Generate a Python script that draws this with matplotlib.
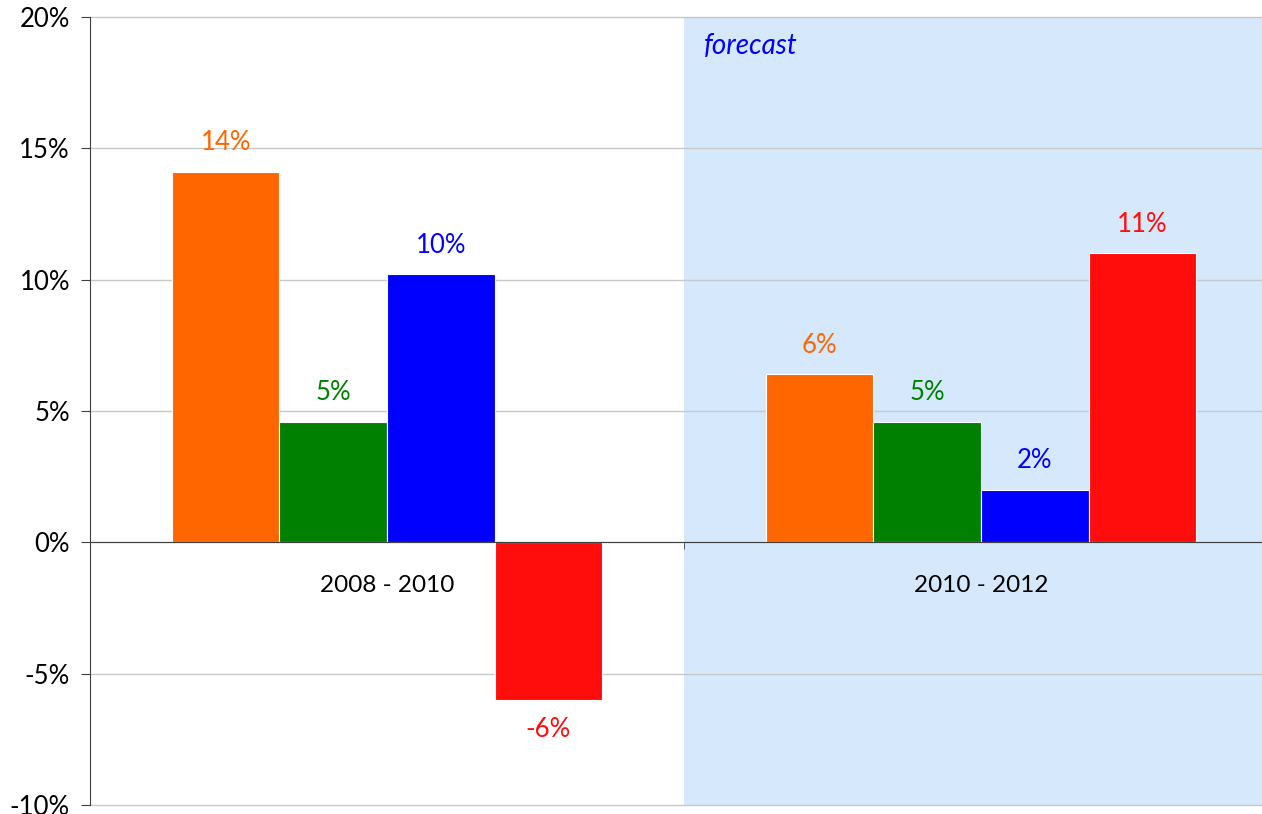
import matplotlib
matplotlib.use('Agg')
import matplotlib.pyplot as plt
from matplotlib.ticker import PercentFormatter, FixedLocator
import numpy as np

plt.rcParams['font.family'] = ['Lato', 'DejaVu Sans']
plt.rcParams['axes.unicode_minus'] = False

# data
periods = ['2008 - 2010', '2010 - 2012']
series_colors = ['#FF6600', '#008000', '#0000FF', '#FF0D0D']
series_values = [
    [14.1, 6.4],   # orange
    [4.6, 4.6],    # green
    [10.2, 2.0],   # blue
    [-6.0, 11.0],  # red
]
y_ticks = [-10, -5, 0, 5, 10, 15, 20]
forecast_label = 'forecast'

fig = plt.figure(figsize=(12.62, 8.14), dpi=100)
ax = fig.add_axes([90 / 1262, 1 - 805 / 814, 1188 / 1262, 788 / 814])

x = np.arange(len(periods))
w = 0.181

# forecast shading over the second category
ax.axvspan(0.5, 1.5, color='#D5E8FC', zorder=0, lw=0)

for i, (vals, col) in enumerate(zip(series_values, series_colors)):
    pos = x + (i - 1.5) * w
    ax.bar(pos, vals, width=w, color=col, edgecolor='white', linewidth=0.8, zorder=3)
    for px, v in zip(pos, vals):
        off = 21 if v >= 0 else -21
        ax.annotate('%d%%' % round(v), (px, v), xytext=(0, off), textcoords='offset points',
                    ha='center', va='center', color=col, fontsize=18.5, zorder=4)

ax.text(0.534, 18.9, forecast_label, color='#0000FF', style='italic', fontsize=20,
        ha='left', va='center', zorder=4)

ax.set_xlim(-0.5, 1.5)
ax.set_ylim(-10, 20)
ax.yaxis.set_major_locator(FixedLocator(y_ticks))
ax.yaxis.set_major_formatter(PercentFormatter(decimals=0))
ax.grid(axis='y', color='#C8C8C8', linewidth=1, zorder=1)
for gl in ax.get_ygridlines():
    gl.set_clip_on(False)
ax.set_axisbelow(True)

for s in ['top', 'right']:
    ax.spines[s].set_visible(False)
ax.spines['left'].set_color('#404040')
ax.spines['bottom'].set_position(('data', 0))
ax.spines['bottom'].set_color('#404040')
ax.spines['bottom'].set_zorder(5)

ax.set_xticks(x)
ax.set_xticklabels(periods)
ax.set_xticks([0.5], minor=True)
ax.tick_params(axis='x', which='major', length=0, pad=23.5, labelsize=17.5)
ax.tick_params(axis='x', which='minor', length=5, direction='out', color='#404040')
ax.tick_params(axis='y', length=6.5, direction='out', color='#404040', labelsize=18.5, pad=8)

fig.savefig('out.png', dpi=100)
